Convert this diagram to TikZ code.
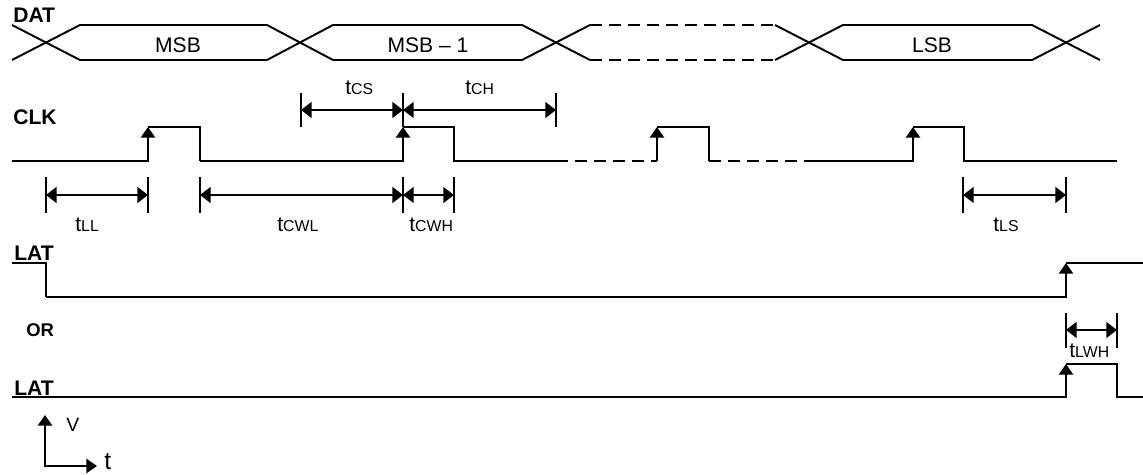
\documentclass[tikz,border=0pt]{standalone}
\usepackage{fontspec}
\setmainfont{Liberation Sans}
\usetikzlibrary{arrows.meta}
\tikzset{
    signal/.style={line width=1.1pt},
    dashsig/.style={line width=1.1pt, dash pattern=on 6.8pt off 4pt},
    rise/.style={line width=1.1pt, -{Triangle[width=8pt,length=6pt]}},
    dimline/.style={line width=0.9pt,
        {Triangle[width=9pt,length=6pt]}-{Triangle[width=9pt,length=6pt]}},
    dimtick/.style={line width=1.3pt},
    siglabel/.style={font=\fontsize{12}{14}\selectfont\bfseries, anchor=base west, inner sep=0pt},
    bitlabel/.style={font=\fontsize{12}{14}\selectfont, anchor=base, inner sep=0pt},
    timelabel/.style={font=\fontsize{12}{14}\selectfont, anchor=base west, inner sep=0pt}
}
\newcommand{\tpar}[1]{t{\fontsize{9}{10}\selectfont #1}}

\begin{document}
\begin{tikzpicture}[x=0.02cm, y=-0.02cm]
\useasboundingbox (0,0) rectangle (1143,475);
% signal names
\node[siglabel] (dat)  at (13,23)  {DAT};
\node[siglabel] (clk)  at (13,125) {CLK};
\node[siglabel] (lat1) at (14,261) {LAT};
\node[siglabel, font=\fontsize{10.5}{12}\selectfont\bfseries] (or) at (26,337) {OR};
\node[siglabel] (lat2) at (14,396) {LAT};
% DAT bus
\draw[signal] (12,25) -- (80,60) -- (267,60) -- (333,25) -- (522,25) -- (590,60);
\draw[signal] (12,60) -- (80,25) -- (267,25) -- (333,60) -- (522,60) -- (590,25);
\draw[dashsig] (590,25) -- (775,25);
\draw[dashsig] (590,60) -- (775,60);
\draw[signal] (775,25) -- (843,60) -- (1032,60) -- (1100,25);
\draw[signal] (775,60) -- (843,25) -- (1032,25) -- (1100,60);
\node[bitlabel] (msb)  at (178,53) {MSB};
\node[bitlabel] (msb1) at (428,53) {MSB -- 1};
\node[bitlabel] (lsb)  at (932,53) {LSB};
% CLK
\draw[rise] (12,161) -- (148,161) -- (148,127);
\draw[signal] (148,127) -- (200,127) -- (200,161);
\draw[rise] (200,161) -- (403,161) -- (403,127);
\draw[signal] (403,127) -- (454,127) -- (454,161) -- (556,161);
\draw[dashsig] (556,161) -- (657,161);
\draw[rise] (657,161) -- (657,127);
\draw[signal] (657,127) -- (709,127) -- (709,161);
\draw[dashsig] (709,161) -- (810,161);
\draw[rise] (810,161) -- (913,161) -- (913,127);
\draw[signal] (913,127) -- (964,127) -- (964,161) -- (1117,161);
% LAT, latched level
\draw[signal] (12,263) -- (46,263) -- (46,297);
\draw[rise] (46,297) -- (1066,297) -- (1066,263);
\draw[signal] (1066,263) -- (1143,263);
% LAT, pulse
\draw[rise] (12,397) -- (1066,397) -- (1066,364);
\draw[signal] (1066,364) -- (1117,364) -- (1117,397) -- (1143,397);
% timing marks above CLK
\coordinate (cs0) at (301,110);
\coordinate (cs1) at (403,110);
\coordinate (ch1) at (556,110);
\draw[dimtick] (301,93) -- (301,127);
\draw[dimtick] (403,93) -- (403,127);
\draw[dimtick] (556,93) -- (556,127);
\draw[dimline] (cs0) -- (cs1);
\draw[dimline] (cs1) -- (ch1);
\node[timelabel] (tcs) at (345,95) {\tpar{CS}};
\node[timelabel] (tch) at (465,95) {\tpar{CH}};
% timing marks below CLK
\coordinate (ll0)  at (46,195);
\coordinate (ll1)  at (148,195);
\coordinate (cwl0) at (200,195);
\coordinate (cwl1) at (403,195);
\coordinate (cwh1) at (454,195);
\coordinate (ls0)  at (963,195);
\coordinate (ls1)  at (1066,195);
\draw[dimtick] (46,177) -- (46,213);
\draw[dimtick] (148,177) -- (148,213);
\draw[dimtick] (200,177) -- (200,213);
\draw[dimtick] (403,177) -- (403,213);
\draw[dimtick] (454,177) -- (454,213);
\draw[dimtick] (963,177) -- (963,213);
\draw[dimtick] (1066,177) -- (1066,213);
\draw[dimline] (ll0) -- (ll1);
\draw[dimline] (cwl0) -- (cwl1);
\draw[dimline] (cwl1) -- (cwh1);
\draw[dimline] (ls0) -- (ls1);
\node[timelabel] (tll)  at (75,232)  {\tpar{LL}};
\node[timelabel] (tcwl) at (277,232) {\tpar{CWL}};
\node[timelabel] (tcwh) at (409,232) {\tpar{CWH}};
\node[timelabel] (tls)  at (993,232) {\tpar{LS}};
% latch pulse width
\coordinate (lwh0) at (1066,330);
\coordinate (lwh1) at (1117,330);
\draw[dimtick] (1066,313) -- (1066,348);
\draw[dimtick] (1117,313) -- (1117,348);
\draw[dimline] (lwh0) -- (lwh1);
\node[timelabel] (tlwh) at (1069,358) {\tpar{LWH}};
% axes
\coordinate (origin) at (45,466);
\coordinate (vtop)   at (45,415);
\coordinate (tright) at (97,466);
\draw[line width=1.1pt, {Triangle[width=8pt,length=6pt]}-{Triangle[width=8pt,length=6pt]}]
    (vtop) -- (origin) -- (tright);
\node[timelabel, font=\fontsize{11}{13}\selectfont] (vlab) at (66,432) {V};
\node[timelabel, font=\fontsize{14}{16}\selectfont] (tlab) at (104,470) {t};
\end{tikzpicture}
\end{document}
